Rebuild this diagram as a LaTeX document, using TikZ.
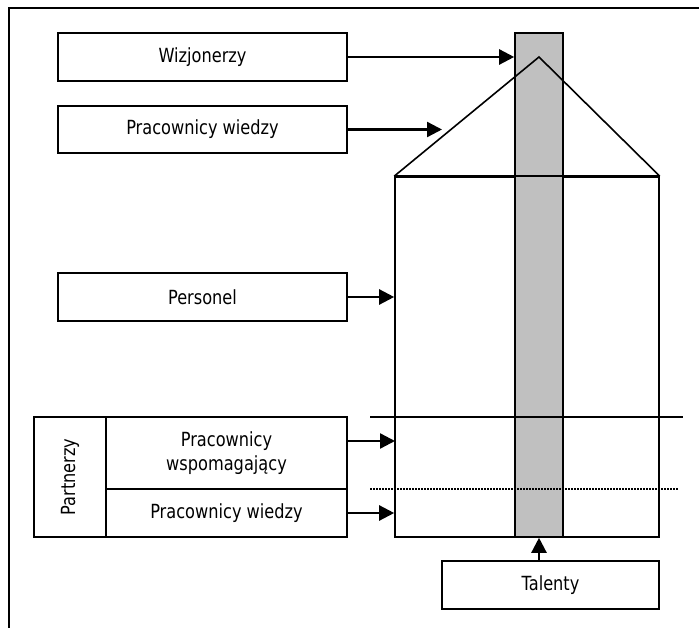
\documentclass[tikz,border=0pt]{standalone}
\usepackage{fontspec}
\setmainfont{DejaVu Sans}[FakeStretch=0.83]
\usetikzlibrary{arrows.meta}
\definecolor{pillar}{RGB}{192,192,192}
\tikzset{
  box/.style={draw, line width=1.8pt, fill=white, inner sep=0pt, align=center, font=\fontsize{19.5}{24}\selectfont},
  conn/.style={line width=2.4pt, -{Triangle[length=15pt,width=15pt]}},
  edge/.style={line width=1.6pt},
}
\begin{document}
\begin{tikzpicture}[x=1pt,y=-1pt]
\useasboundingbox (0,0) rectangle (699,628);
% frame (top and left edges)
\coordinate (ftl) at (9,8);
\coordinate (ftr) at (699,8);
\coordinate (fbl) at (9,628);
\draw[line width=2pt] (ftr) -- (ftl) -- (fbl);
% house
\node[draw, line width=1.6pt, fill=white, minimum width=264pt, minimum height=360pt, inner sep=0pt] (house) at (527,357) {};
\node[draw, line width=1.6pt, fill=pillar, minimum width=48pt, minimum height=504pt, inner sep=0pt] (column) at (539,285) {};
\coordinate (apex) at (539,57);
\draw[edge, line join=miter] (house.north west) -- (apex) -- (house.north east);
\draw[edge] (house.north west) -- (house.north east);
% lines across
\coordinate (l1a) at (370,417);
\coordinate (l1b) at (683,417);
\coordinate (l2a) at (370,489);
\coordinate (l2b) at (679,489);
\draw[line width=1.8pt] (l1a) -- (l1b);
\draw[line width=1.2pt, dash pattern=on 1.5pt off 1.5pt] (l2a) -- (l2b);
% boxes
\node[box, minimum width=289pt, minimum height=48pt] (wiz) at (202.5,57) {Wizjonerzy};
\node[box, minimum width=289pt, minimum height=47pt] (pw) at (202.5,129.5) {Pracownicy wiedzy};
\node[box, minimum width=289pt, minimum height=48pt] (pers) at (202.5,297) {Personel};
\node[box, minimum width=120pt, minimum height=72pt, rotate=90] (partn) at (70,477) {Partnerzy};
\node[box, minimum width=241pt, minimum height=72pt] (wsp) at (226.5,453) {Pracownicy\\wspomagający};
\node[box, minimum width=241pt, minimum height=48pt] (pw2) at (226.5,513) {Pracownicy wiedzy};
\node[box, minimum width=217pt, minimum height=48pt] (tal) at (550.5,585) {Talenty};
% connectors
\coordinate (wizend) at (column.west |- wiz.east);
\draw[conn] (wiz.east) -- (wizend);
\coordinate (pwend) at (442,129.5);
\draw[conn] (pw.east) -- (pwend);
\draw[conn] (pers.east) -- (house.west |- pers.east);
\coordinate (wspend) at (395,441);
\draw[conn] (wsp.east |- wspend) -- (wspend);
\draw[conn] (pw2.east) -- (house.west |- pw2.east);
\draw[conn] (tal.north -| column.south) -- (column.south);
\end{tikzpicture}
\end{document}
